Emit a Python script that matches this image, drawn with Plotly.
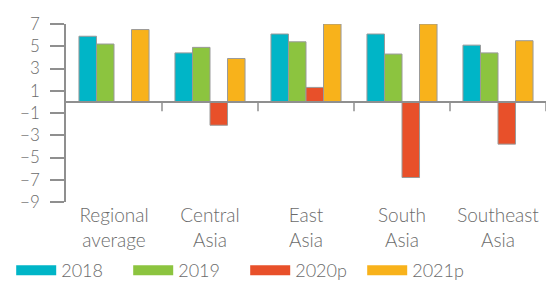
import plotly.graph_objects as go

categories = ["Regional<br>average", "Central<br>Asia", "East<br>Asia", "South<br>Asia", "Southeast<br>Asia"]
series_names = ["2018", "2019", "2020p", "2021p"]
v2018 = [5.9, 4.4, 6.1, 6.1, 5.1]
v2019 = [5.2, 4.9, 5.4, 4.3, 4.4]
v2020 = [None, -2.1, 1.3, -6.8, -3.8]
v2021 = [6.5, 3.9, 7.0, 7.0, 5.5]
y_ticks = [7, 5, 3, 1, -1, -3, -5, -7, -9]
colors = ["#00B5C7", "#8CC43F", "#E8502A", "#F8B21B"]

FONT = "Lato"
GREY = "#6b6b6b"
AX = "#8f8f8f"

fig = go.Figure()
for name, vals, c in zip(series_names, [v2018, v2019, v2020, v2021], colors):
    fig.add_trace(go.Bar(x=categories, y=vals, name=name, marker=dict(color=c, line=dict(color="#9a9a9a", width=1)),
                         showlegend=False))
    fig.add_trace(go.Scatter(x=[None], y=[None], mode="lines", name=name,
                             line=dict(color=c, width=12), showlegend=True))

shapes = [dict(type="line", xref="x", yref="y", x0=-0.5, x1=4.5, y0=0, y1=0, line=dict(color=AX, width=2))]
for i in range(len(categories)):
    shapes.append(dict(type="line", xref="x", yref="y", x0=i + 0.5, x1=i + 0.5, y0=0, y1=-0.85,
                       line=dict(color=AX, width=1.5)))

fig.update_layout(
    width=560, height=282,
    margin=dict(l=66, r=14, t=24, b=80, autoexpand=False),
    paper_bgcolor="white", plot_bgcolor="white",
    barmode="group", bargap=0.27, bargroupgap=0,
    font=dict(family=FONT, size=18, color=GREY, weight=300),
    shapes=shapes,
    showlegend=True,
    legend=dict(orientation="h", x=0.02, xref="container", xanchor="left", y=-0.385, yanchor="middle", yref="paper",
                font=dict(size=18, color=GREY, weight=300), itemwidth=40, tracegroupgap=0,
                entrywidth=62, entrywidthmode="pixels", bgcolor="rgba(0,0,0,0)"),
    xaxis=dict(type="category", range=[-0.5, 4.5], showline=False, ticks="", showgrid=False,
               zeroline=False, tickfont=dict(size=19, color=GREY, weight=300), ticklabelstandoff=0),
    yaxis=dict(range=[-9, 7], tickvals=y_ticks, showgrid=False, zeroline=False, showline=True,
               linecolor=AX, linewidth=1.5, ticks="outside", ticklen=14, tickcolor=AX, tickwidth=1.5,
               tickfont=dict(size=17, color=GREY, weight=300), ticklabelstandoff=7),
)

fig.write_html("out.html", config={"displayModeBar": False},
               post_script="document.body.style.margin='0px';")
